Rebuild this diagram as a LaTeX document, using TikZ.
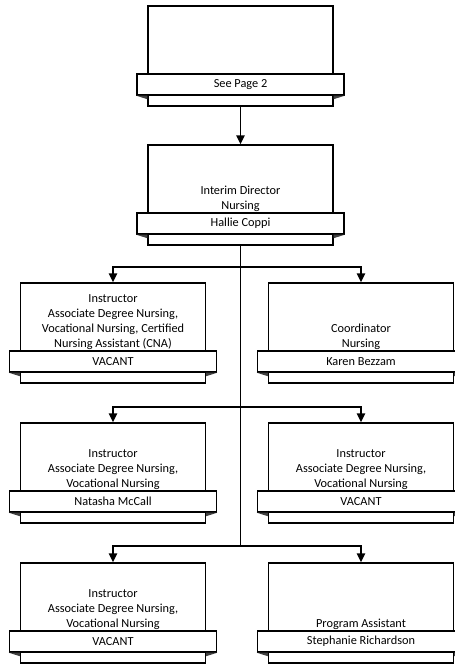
\documentclass[tikz,border=0pt]{standalone}
\usepackage{fontspec}
\setmainfont{Carlito}
\usetikzlibrary{arrows.meta}
\tikzset{
  unitbox/.style={draw, line width=1.4pt, fill=white, minimum width=185pt, minimum height=100pt, inner sep=0pt},
  band/.style={draw, line width=1.4pt, fill=white, minimum width=207pt, minimum height=21pt, inner sep=0pt, font=\fontsize{12.3}{15}\selectfont},
  title/.style={align=center, anchor=south, inner sep=0pt, font=\fontsize{12.3}{15}\selectfont},
  link/.style={line width=1.4pt},
  arrowlink/.style={line width=1.4pt, -{Triangle[width=8.5pt,length=9pt]}}
}
% #1 name, #2 cx, #3 top, #4 title text, #5 band text
\newcommand\orgunit[5]{%
  \node[unitbox] (#1) at (#2,#3+50) {};
  \node[title] (#1t) at (#2,#3+67) {#4};
  \node[band] (#1n) at (#2,#3+78.5) {#5};
  \fill[black!75] (#1n.south west) -- (#1.west |- #1n.south) -- ([yshift=-3.5pt]#1.west |- #1n.south) -- cycle;
  \fill[black!75] (#1n.south east) -- (#1.east |- #1n.south) -- ([yshift=-3.5pt]#1.east |- #1n.south) -- cycle;
}
\begin{document}
\begin{tikzpicture}[x=1pt,y=-1pt]
\useasboundingbox (0,0) rectangle (455,664);
\orgunit{top}{240.5}{6}{}{See Page 2}
\orgunit{dir}{240.5}{145}{Interim Director\\Nursing}{Hallie Coppi}
\orgunit{ra}{113}{283}{Instructor\\Associate Degree Nursing,\\Vocational Nursing, Certified\\Nursing Assistant (CNA)}{VACANT}
\orgunit{rb}{361}{283}{Coordinator\\Nursing}{Karen Bezzam}
\orgunit{rc}{113}{423}{Instructor\\Associate Degree Nursing,\\Vocational Nursing}{Natasha McCall}
\orgunit{rd}{361}{423}{Instructor\\Associate Degree Nursing,\\Vocational Nursing}{VACANT}
\orgunit{re}{113}{563}{Instructor\\Associate Degree Nursing,\\Vocational Nursing}{VACANT}
\orgunit{rf}{361}{563}{Program Assistant}{Stephanie Richardson}

\coordinate (j1) at (240.5,267);
\coordinate (j2) at (240.5,407);
\coordinate (j3) at (240.5,546);

\draw[arrowlink] (top.south) -- (dir.north);
\draw[link] (dir.south) -- (j3);
\draw[arrowlink] (j1) -| (ra.north);
\draw[arrowlink] (j1) -| (rb.north);
\draw[arrowlink] (j2) -| (rc.north);
\draw[arrowlink] (j2) -| (rd.north);
\draw[arrowlink] (j3) -| (re.north);
\draw[arrowlink] (j3) -| (rf.north);
\end{tikzpicture}
\end{document}
